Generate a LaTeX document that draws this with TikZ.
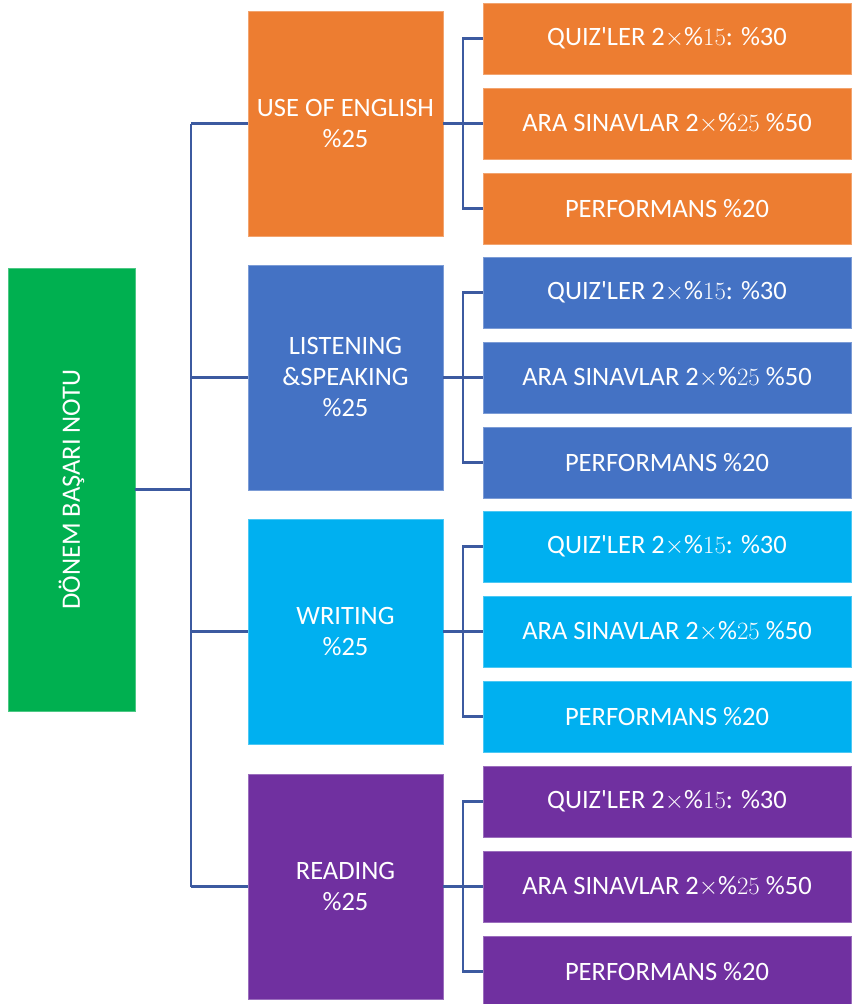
\documentclass[tikz,border=0pt]{standalone}
\usepackage{fontspec}
\setmainfont{Carlito}
\usepackage{tikz}

\definecolor{ordorange}{HTML}{ED7D31}
\definecolor{ordblue}{HTML}{4472C4}
\definecolor{ordcyan}{HTML}{00B0F0}
\definecolor{ordpurple}{HTML}{7030A0}
\definecolor{ordgreen}{HTML}{00B050}
\definecolor{linkblue}{RGB}{60,90,160}

\begin{document}
\begin{tikzpicture}[x=1pt, y=-1pt,
        box/.style={fill=#1, draw=#1!70!white, line width=0.6pt, inner sep=0pt,
            text=white, align=center, font={\fontsize{26.5}{31}\selectfont}},
        rootbox/.style={box=ordgreen, minimum width=127pt, minimum height=443pt},
        mainbox/.style={box=#1, minimum width=195pt, minimum height=225pt},
        leafbox/.style={box=#1, minimum width=368pt, minimum height=71pt},
        link/.style={draw=linkblue, line width=2.5pt},
        stub/.style={draw=linkblue, line width=3.5pt}]
        \useasboundingbox (0,0) rectangle (852,1004);

        % root
        \node[rootbox] (root) at (71.5, 489.5) {\rotatebox{90}{DÖNEM BAŞARI NOTU}};

        % main parts
        \node[mainbox=ordorange] (use) at (345.5, 123.5) {USE OF ENGLISH\\\%25};
        \node[mainbox=ordblue] (lis) at (345.5, 377.5) {LISTENING\\\&SPEAKING\\\%25};
        \node[mainbox=ordcyan] (wri) at (345.5, 631.5) {WRITING\\\%25};
        \node[mainbox=ordpurple] (rea) at (345.5, 886.5) {READING\\\%25};

        % parts of each
        \node[leafbox=ordorange] (use1) at (667, 38.5) {QUIZ\textquotesingle LER 2$\times$\%$15$: \%30};
        \node[leafbox=ordorange] (use2) at (667, 123.5) {ARA SINAVLAR 2$\times$\%$25$ \%50};
        \node[leafbox=ordorange] (use3) at (667, 208.5) {PERFORMANS \%20};
        \node[leafbox=ordblue] (lis1) at (667, 292.5) {QUIZ\textquotesingle LER 2$\times$\%$15$: \%30};
        \node[leafbox=ordblue] (lis2) at (667, 377.5) {ARA SINAVLAR 2$\times$\%$25$ \%50};
        \node[leafbox=ordblue] (lis3) at (667, 462.5) {PERFORMANS \%20};
        \node[leafbox=ordcyan] (wri1) at (667, 546.5) {QUIZ\textquotesingle LER 2$\times$\%$15$: \%30};
        \node[leafbox=ordcyan] (wri2) at (667, 631.5) {ARA SINAVLAR 2$\times$\%$25$ \%50};
        \node[leafbox=ordcyan] (wri3) at (667, 716.5) {PERFORMANS \%20};
        \node[leafbox=ordpurple] (rea1) at (667, 801.5) {QUIZ\textquotesingle LER 2$\times$\%$15$: \%30};
        \node[leafbox=ordpurple] (rea2) at (667, 886.5) {ARA SINAVLAR 2$\times$\%$25$ \%50};
        \node[leafbox=ordpurple] (rea3) at (667, 971.5) {PERFORMANS \%20};

        % trunk
        \coordinate (tr) at (191, 0);
        \draw[link] (root.east) -- (root.east -| tr);
        \draw[link] (use.west -| tr) -- (rea.west -| tr);
        \draw[link] (use.west -| tr) -- (use.west);
        \draw[link] (lis.west -| tr) -- (lis.west);
        \draw[link] (wri.west -| tr) -- (wri.west);
        \draw[link] (rea.west -| tr) -- (rea.west);

        % brackets
        \coordinate (br) at (463, 0);
        \draw[stub] (use.east) -- (use.east -| br);
        \draw[link] (use1.west) -- (use1.west -| br) |- (use3.west);
        \draw[link] (use2.west -| br) -- (use2.west);
        \draw[stub] (lis.east) -- (lis.east -| br);
        \draw[link] (lis1.west) -- (lis1.west -| br) |- (lis3.west);
        \draw[link] (lis2.west -| br) -- (lis2.west);
        \draw[stub] (wri.east) -- (wri.east -| br);
        \draw[link] (wri1.west) -- (wri1.west -| br) |- (wri3.west);
        \draw[link] (wri2.west -| br) -- (wri2.west);
        \draw[stub] (rea.east) -- (rea.east -| br);
        \draw[link] (rea1.west) -- (rea1.west -| br) |- (rea3.west);
        \draw[link] (rea2.west -| br) -- (rea2.west);
    \end{tikzpicture}
\end{document}
